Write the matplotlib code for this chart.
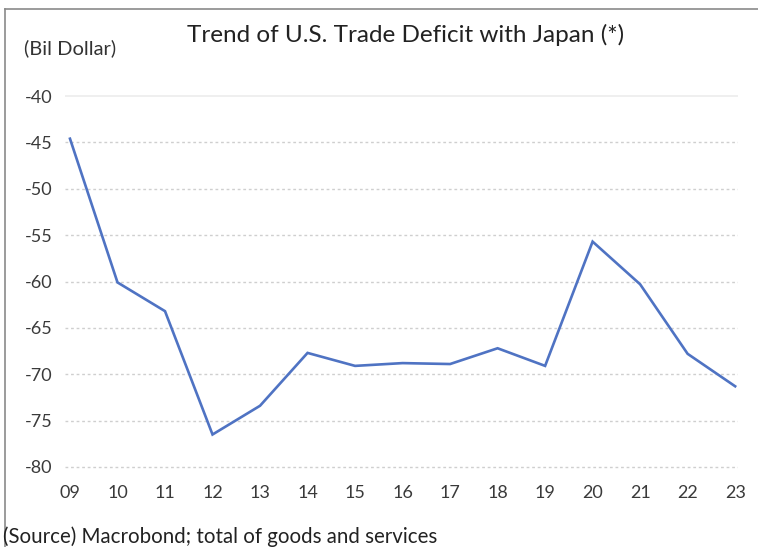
import matplotlib.pyplot as plt
from matplotlib.lines import Line2D
import numpy as np

years = ["09", "10", "11", "12", "13", "14", "15", "16", "17", "18", "19", "20", "21", "22", "23"]
deficit = [-44.6, -60.1, -63.2, -76.5, -73.4, -67.7, -69.1, -68.8, -68.9, -67.2, -69.1, -55.7, -60.3, -67.8, -71.3]
yticks = [-40, -45, -50, -55, -60, -65, -70, -75, -80]

W, H = 758, 547
plt.rcParams['font.family'] = ['Lato', 'DejaVu Sans']

fig = plt.figure(figsize=(W / 100, H / 100), dpi=100)
fig.patch.set_facecolor('white')

# plot area in pixel terms, converted to figure fractions
left, right, top, bottom = 65, 738, 91.4, 471.6
ax = fig.add_axes([left / W, 1 - bottom / H, (right - left) / W, (bottom - top) / H])

x = np.arange(len(years))
ax.plot(x, deficit, color='#4f73c3', lw=1.9, solid_joinstyle='miter', zorder=3)

ax.set_xlim(-0.105, len(years) - 1 + 0.06)
ax.set_ylim(-80.5, -39.5)

for v in yticks:
    if v == -40:
        ax.axhline(v, color='#ececec', lw=1.2, ls='-', zorder=1)
    else:
        ax.axhline(v, color='#cfcfcf', lw=1.0, ls=(0, (2, 2)), zorder=1)

ax.set_yticks(yticks)
ax.set_yticklabels([str(v) for v in yticks])
ax.set_xticks(x)
ax.set_xticklabels(years)
ax.tick_params(axis='y', length=0, pad=29, labelsize=13, labelcolor='#3a3a3a')
ax.tick_params(axis='x', length=0, pad=10, labelsize=13, labelcolor='#3a3a3a')
for lab in ax.get_yticklabels():
    lab.set_horizontalalignment('left')

for s in ax.spines.values():
    s.set_visible(False)

fig.text(406 / W, 1 - 35 / H, "Trend of U.S. Trade Deficit with Japan (*)",
         ha='center', va='center', fontsize=17.5, color='#222222')
fig.text(24 / W, 1 - 48 / H, "(Bil Dollar)", ha='left', va='center',
         fontsize=14.5, color='#333333')
fig.text(3 / W, 1 - 537 / H, "(Source) Macrobond; total of goods and services",
         ha='left', va='center', fontsize=14.8, color='#222222')

# frame lines along the top and left edge
fig.add_artist(Line2D([5 / W, 5 / W], [0, 1 - 9 / H], color='#8a8a8a', lw=1.2))
fig.add_artist(Line2D([5 / W, 1], [1 - 9 / H, 1 - 9 / H], color='#8a8a8a', lw=1.2))

fig.savefig('out.png', dpi=100)
